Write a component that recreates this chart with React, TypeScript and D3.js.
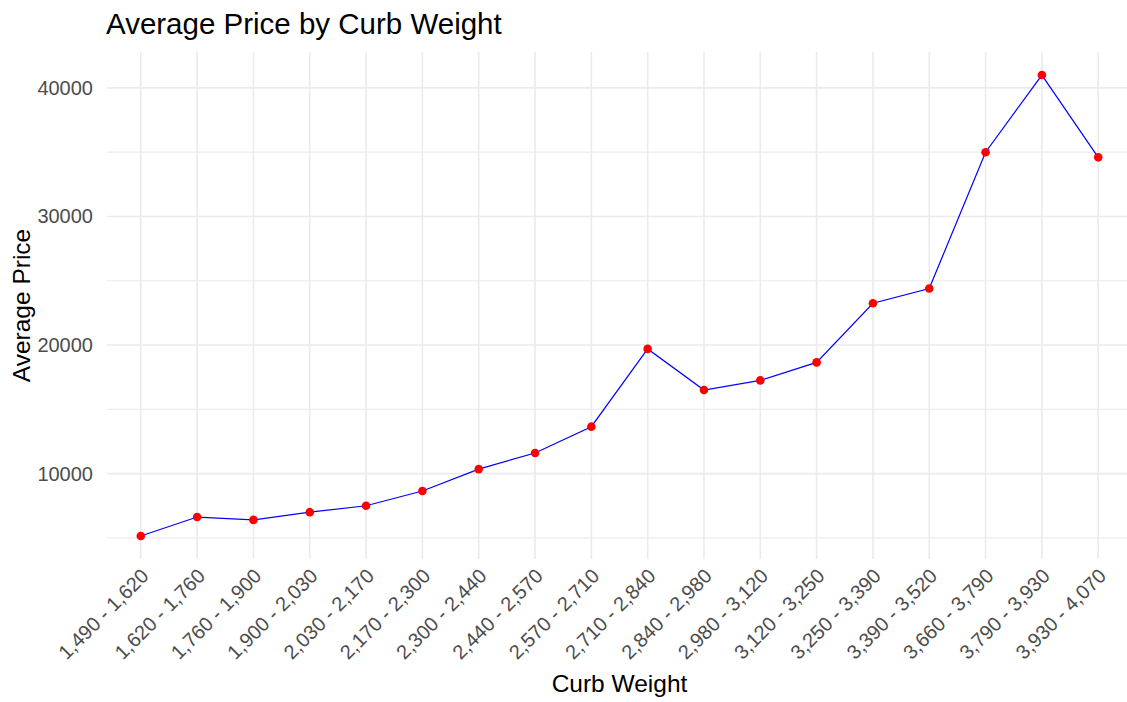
import React, { useEffect, useRef } from 'react';
import * as d3 from 'd3';

// Curb weight bins and average price per bin
const weightBins: string[] = [
  '1,490 - 1,620', '1,620 - 1,760', '1,760 - 1,900', '1,900 - 2,030',
  '2,030 - 2,170', '2,170 - 2,300', '2,300 - 2,440', '2,440 - 2,570',
  '2,570 - 2,710', '2,710 - 2,840', '2,840 - 2,980', '2,980 - 3,120',
  '3,120 - 3,250', '3,250 - 3,390', '3,390 - 3,520', '3,660 - 3,790',
  '3,790 - 3,930', '3,930 - 4,070',
];
const avgPrice: number[] = [
  5150, 6620, 6400, 7000, 7500, 8650, 10350, 11600, 13650,
  19700, 16500, 17250, 18650, 23250, 24400, 35000, 41000, 34600,
];
const majorTicks: number[] = [10000, 20000, 30000, 40000];
const minorTicks: number[] = [5000, 15000, 25000, 35000];

const W = 1127;
const H = 702;
const FONT = '"Liberation Sans", Arial, sans-serif';

const App = () => {
  const ref = useRef<SVGSVGElement | null>(null);

  useEffect(() => {
    if (!ref.current) return;
    const svg = d3.select(ref.current);
    svg.selectAll('*').remove();

    const panel = { left: 107, right: 1132, top: 52, bottom: 559 };

    const x = d3.scalePoint<string>()
      .domain(weightBins)
      .range([panel.left, panel.right])
      .padding(0.6);

    const [lo, hi] = d3.extent(avgPrice) as [number, number];
    const pad = (hi - lo) * 0.05;
    const y = d3.scaleLinear()
      .domain([lo - pad, hi + pad])
      .range([panel.bottom, panel.top]);

    const grid = svg.append('g');
    // minor horizontal grid
    grid.selectAll('line.minor')
      .data(minorTicks)
      .enter()
      .append('line')
      .attr('x1', panel.left).attr('x2', panel.right)
      .attr('y1', d => y(d)).attr('y2', d => y(d))
      .attr('stroke', '#EBEBEB').attr('stroke-width', 1.2);
    // major horizontal grid
    grid.selectAll('line.major')
      .data(majorTicks)
      .enter()
      .append('line')
      .attr('x1', panel.left).attr('x2', panel.right)
      .attr('y1', d => y(d)).attr('y2', d => y(d))
      .attr('stroke', '#EBEBEB').attr('stroke-width', 1.6);
    // vertical grid
    grid.selectAll('line.vert')
      .data(weightBins)
      .enter()
      .append('line')
      .attr('x1', d => x(d)!).attr('x2', d => x(d)!)
      .attr('y1', panel.top).attr('y2', panel.bottom)
      .attr('stroke', '#EBEBEB').attr('stroke-width', 1.6);

    // y tick labels
    svg.append('g')
      .selectAll('text')
      .data(majorTicks)
      .enter()
      .append('text')
      .attr('x', 93)
      .attr('y', d => y(d))
      .attr('dy', '0.35em')
      .attr('text-anchor', 'end')
      .attr('fill', '#4D4D4D')
      .style('font-size', '20px')
      .style('font-family', FONT)
      .text(d => String(d));

    // x tick labels, rotated 45 deg
    svg.append('g')
      .selectAll('text')
      .data(weightBins)
      .enter()
      .append('text')
      .attr('transform', d => `translate(${x(d)! - 1},${panel.bottom + 8}) rotate(-45)`)
      .attr('dy', '0.72em')
      .attr('text-anchor', 'end')
      .attr('fill', '#4D4D4D')
      .style('font-size', '20px')
      .style('font-family', FONT)
      .text(d => d);

    // line
    const line = d3.line<number>()
      .x((_, i) => x(weightBins[i])!)
      .y(d => y(d));
    svg.append('path')
      .datum(avgPrice)
      .attr('d', line)
      .attr('fill', 'none')
      .attr('stroke', '#0000FF')
      .attr('stroke-width', 1.2);

    // points
    svg.append('g')
      .selectAll('circle')
      .data(avgPrice)
      .enter()
      .append('circle')
      .attr('cx', (_, i) => x(weightBins[i])!)
      .attr('cy', d => y(d))
      .attr('r', 4.3)
      .attr('fill', '#FF0000');

    // titles
    svg.append('text')
      .attr('x', 106)
      .attr('y', 34)
      .attr('fill', '#000')
      .style('font-size', '29.5px')
      .style('font-family', FONT)
      .text('Average Price by Curb Weight');

    svg.append('text')
      .attr('x', (panel.left + panel.right) / 2)
      .attr('y', 692)
      .attr('text-anchor', 'middle')
      .attr('fill', '#000')
      .style('font-size', '24.5px')
      .style('font-family', FONT)
      .text('Curb Weight');

    svg.append('text')
      .attr('transform', `translate(30,${(panel.top + panel.bottom) / 2}) rotate(-90)`)
      .attr('text-anchor', 'middle')
      .attr('fill', '#000')
      .style('font-size', '24.5px')
      .style('font-family', FONT)
      .text('Average Price');
  }, []);

  return (
    <div style={{ position: 'absolute', left: 0, top: 0, width: W, height: H, background: '#fff' }}>
      <svg ref={ref} width={W} height={H} style={{ display: 'block' }} />
    </div>
  );
};

export default App;
